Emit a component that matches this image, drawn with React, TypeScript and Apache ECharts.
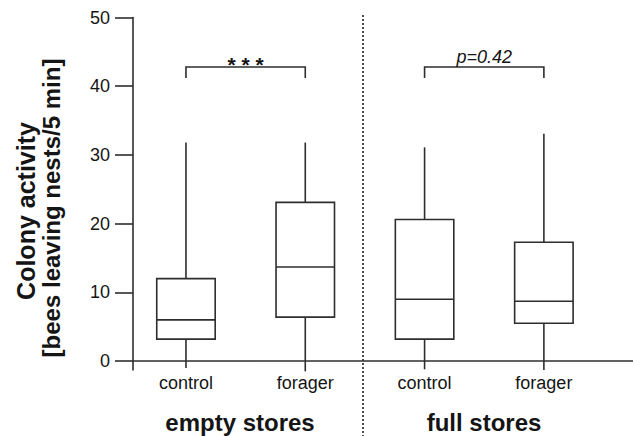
import React, { useEffect, useRef } from "react";
import * as echarts from "echarts";

// ---- data ----
const categories = ["control", "forager", "control", "forager"];
const groupNames = ["empty stores", "full stores"];
const lowWhisker = [-1.0, -1.5, -1.2, -1.3];
const q1 = [3.2, 6.4, 3.2, 5.5];
const median = [6.0, 13.7, 9.0, 8.7];
const q3 = [12.0, 23.1, 20.6, 17.3];
const highWhisker = [31.8, 31.8, 31.1, 33.1];
const yTicks = [0, 10, 20, 30, 40, 50];
const bracketFrom = [1, 3];
const bracketTo = [2, 4];
const bracketLevel = [42.8, 42.8];
const bracketLegEnd = [41.2, 41.2];
const bracketLabels = ["* * *", "p=0.42"];

const FONT = '"Liberation Sans", Arial, Helvetica, sans-serif';
const INK = "#151515";
const LINE = "#2e2e2e";

export default function App() {
  const ref = useRef<HTMLDivElement>(null);
  useEffect(() => {
    if (!ref.current) return;
    const chart = echarts.init(ref.current, undefined, { renderer: "svg" });

    const boxData = categories.map((c, i) => [
      i + 1,
      lowWhisker[i],
      q1[i],
      median[i],
      q3[i],
      highWhisker[i],
      c,
    ]);
    const bracketData = bracketLabels.map((l, i) => [
      bracketFrom[i],
      bracketTo[i],
      bracketLevel[i],
      bracketLegEnd[i],
      l,
    ]);

    const HALF = 0.245;

    chart.setOption({
      animation: false,
      grid: { left: 133, right: 0, top: 17.5, bottom: 66, containLabel: false },
      xAxis: {
        type: "value",
        min: 0.556,
        max: 4.747,
        axisLine: { show: true, onZero: true, lineStyle: { color: LINE, width: 1.6 } },
        axisTick: { show: false },
        axisLabel: { show: false },
        splitLine: { show: false },
      },
      yAxis: {
        type: "value",
        min: -1.3,
        max: 50,
        axisLine: { show: true, lineStyle: { color: LINE, width: 1.6 } },
        axisTick: {
          show: true,
          length: 18,
          customValues: yTicks,
          lineStyle: { color: LINE, width: 1.6 },
        },
        axisLabel: {
          show: true,
          customValues: yTicks,
          margin: 23,
          fontSize: 18,
          fontFamily: FONT,
          color: INK,
        },
        splitLine: { show: false },
      },
      series: [
        {
          type: "custom",
          clip: false,
          data: boxData,
          renderItem: (params: any, api: any) => {
            const x = api.value(0);
            const lo = api.value(1);
            const a = api.value(2);
            const m = api.value(3);
            const b = api.value(4);
            const hi = api.value(5);
            const label = categories[params.dataIndex];
            const pLo = api.coord([x, lo]);
            const pA = api.coord([x - HALF, a]);
            const pB = api.coord([x + HALF, b]);
            const pM1 = api.coord([x - HALF, m]);
            const pM2 = api.coord([x + HALF, m]);
            const pHi = api.coord([x, hi]);
            const pZero = api.coord([x, 0]);
            const ls = { stroke: LINE, lineWidth: 1.6, fill: "none" };
            return {
              type: "group",
              children: [
                { type: "line", shape: { x1: pHi[0], y1: pHi[1], x2: pHi[0], y2: pB[1] }, style: ls },
                { type: "line", shape: { x1: pLo[0], y1: pA[1], x2: pLo[0], y2: pLo[1] }, style: ls },
                {
                  type: "rect",
                  shape: { x: pA[0], y: pB[1], width: pB[0] - pA[0], height: pA[1] - pB[1] },
                  style: { stroke: LINE, lineWidth: 1.6, fill: "#fff" },
                },
                { type: "line", shape: { x1: pM1[0], y1: pM1[1], x2: pM2[0], y2: pM2[1] }, style: ls },
                {
                  type: "text",
                  style: {
                    text: label,
                    x: pZero[0],
                    y: pZero[1] + 22,
                    align: "center",
                    verticalAlign: "middle",
                    fontSize: 18,
                    fontFamily: FONT,
                    fill: INK,
                  },
                },
              ],
            };
          },
        },
        {
          type: "custom",
          clip: false,
          data: bracketData,
          renderItem: (params: any, api: any) => {
            const x1 = api.value(0);
            const x2 = api.value(1);
            const yv = api.value(2);
            const yl = api.value(3);
            const label = bracketLabels[params.dataIndex];
            const a = api.coord([x1, yv]);
            const b = api.coord([x2, yv]);
            const a2 = api.coord([x1, yl]);
            const isStars = label.indexOf("*") >= 0;
            return {
              type: "group",
              children: [
                {
                  type: "polyline",
                  shape: { points: [[a[0], a2[1]], [a[0], a[1]], [b[0], b[1]], [b[0], a2[1]]] },
                  style: { stroke: LINE, lineWidth: 1.6, fill: "none" },
                },
                {
                  type: "text",
                  style: {
                    text: label,
                    x: (a[0] + b[0]) / 2,
                    y: isStars ? a[1] - 2 : a[1] - 1,
                    align: "center",
                    verticalAlign: isStars ? "middle" : "bottom",
                    fontSize: isStars ? 21 : 18,
                    fontStyle: isStars ? "normal" : "italic",
                    fontWeight: isStars ? "bold" : "normal",
                    fontFamily: FONT,
                    fill: INK,
                  },
                },
              ],
            };
          },
        },
      ],
      graphic: [
        {
          type: "line",
          shape: { x1: 363, y1: 15, x2: 363, y2: 436 },
          style: { stroke: "#222", lineWidth: 1.6, lineDash: [2, 2] },
        },
        {
          type: "text",
          x: 240,
          y: 422,
          style: {
            text: groupNames[0],
            align: "center",
            verticalAlign: "middle",
            fontSize: 24,
            fontWeight: "bold",
            fontFamily: FONT,
            fill: INK,
          },
        },
        {
          type: "text",
          x: 484,
          y: 422,
          style: {
            text: groupNames[1],
            align: "center",
            verticalAlign: "middle",
            fontSize: 24,
            fontWeight: "bold",
            fontFamily: FONT,
            fill: INK,
          },
        },
        {
          type: "text",
          x: 26,
          y: 211,
          rotation: Math.PI / 2,
          style: {
            text: "Colony activity",
            align: "center",
            verticalAlign: "middle",
            fontSize: 25,
            fontWeight: "bold",
            fontFamily: FONT,
            fill: INK,
          },
        },
        {
          type: "text",
          x: 51,
          y: 208,
          rotation: Math.PI / 2,
          style: {
            text: "[bees leaving nests/5 min]",
            align: "center",
            verticalAlign: "middle",
            fontSize: 24,
            fontWeight: "bold",
            fontFamily: FONT,
            fill: INK,
          },
        },
      ],
    });
    return () => chart.dispose();
  }, []);
  return <div ref={ref} style={{ width: 633, height: 436, position: "absolute", left: 0, top: 0 }} />;
}
